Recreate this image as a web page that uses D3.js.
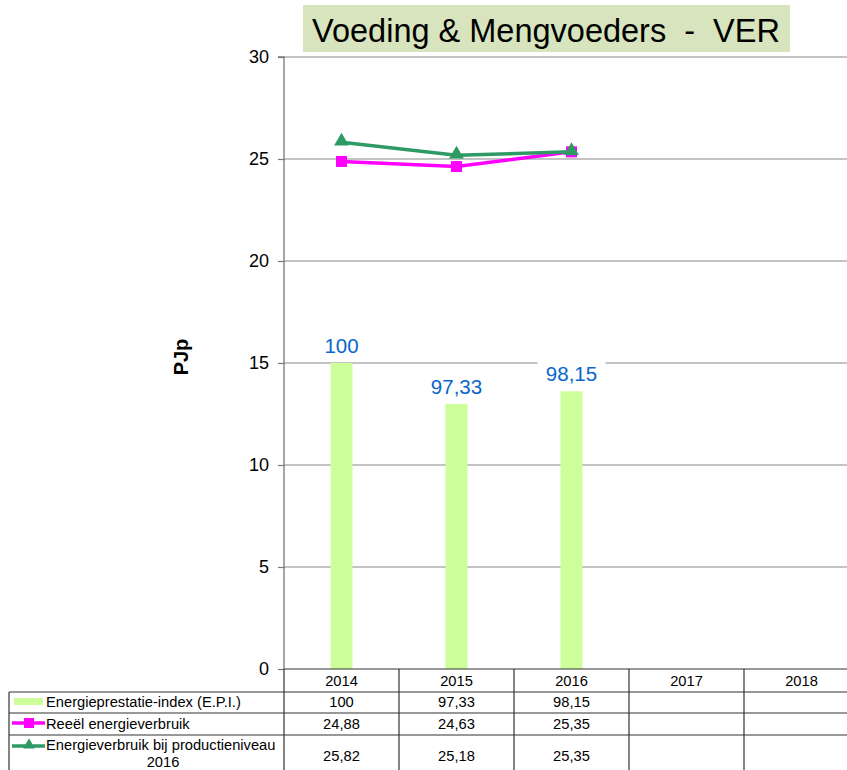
<!DOCTYPE html>
<html>
<head>
<meta charset="utf-8">
<script src="https://cdn.jsdelivr.net/npm/d3@7"></script>
<style>
  html, body { margin: 0; padding: 0; background: #fff; }
  svg { display: block; font-family: "Liberation Sans", Arial, sans-serif; }
</style>
</head>
<body>
<svg id="chart" width="847" height="770"></svg>
<script>
// Years shown on the category axis and in the data table
const years = ["2014", "2015", "2016", "2017", "2018"];
// Energieprestatie-index (secondary, hidden scale)
const epiValues = [100, 97.33, 98.15];
// Reeël energieverbruik (PJp)
const reeelValues = [24.88, 24.63, 25.35];
// Energieverbruik bij productieniveau 2016 (PJp)
const prodValues = [25.82, 25.18, 25.35];
// Primary axis ticks
const yTicks = [0, 5, 10, 15, 20, 25, 30];

const seriesNames = [
  "Energieprestatie-index (E.P.I.)",
  "Reeël energieverbruik",
  ["Energieverbruik bij productieniveau", "2016"]
];

const fmt = v => String(v).replace(".", ",");

const svg = d3.select("#chart");
const plot = { left: 284, right: 859, top: 57, bottom: 669 };

const x = d3.scaleBand().domain(years).range([plot.left, plot.right]);
const y = d3.scaleLinear().domain([0, 30]).range([plot.bottom, plot.top]);
const yEpi = d3.scaleLinear().domain([80, 120]).range([plot.bottom, plot.top]);

const colEpi = "#ccff99";
const colReeel = "#ff00ff";
const colProd = "#2e9a64";
const colLabel = "#0a66cc";
const tableFont = 14.7;

// Title box
svg.append("rect").attr("x", 303).attr("y", 5).attr("width", 487).attr("height", 47)
  .attr("fill", "#d7e4bd");
svg.append("text").attr("x", 546).attr("y", 42).attr("text-anchor", "middle")
  .attr("font-size", 32.5).attr("fill", "#000")
  .attr("xml:space", "preserve")
  .text("Voeding & Mengvoeders  -  VER");

// Horizontal gridlines
svg.append("g").selectAll("line").data(yTicks.filter(t => t > 0)).join("line")
  .attr("x1", plot.left).attr("x2", plot.right)
  .attr("y1", d => y(d)).attr("y2", d => y(d))
  .attr("stroke", "#878787").attr("stroke-width", 1.2);

// EPI bars on the hidden secondary scale
const barW = 22;
svg.append("g").selectAll("rect").data(epiValues).join("rect")
  .attr("x", (d, i) => x(years[i]) + x.bandwidth() / 2 - barW / 2)
  .attr("width", barW)
  .attr("y", d => yEpi(d))
  .attr("height", d => yEpi(80) - yEpi(d))
  .attr("fill", colEpi);

// Lines
const line = d3.line().x((d, i) => x(years[i]) + x.bandwidth() / 2).y(d => y(d));
svg.append("path").datum(reeelValues).attr("d", line)
  .attr("fill", "none").attr("stroke", colReeel).attr("stroke-width", 3.5);
svg.append("path").datum(prodValues).attr("d", line)
  .attr("fill", "none").attr("stroke", colProd).attr("stroke-width", 3.5);

// Markers
svg.append("g").selectAll("rect").data(reeelValues).join("rect")
  .attr("x", (d, i) => x(years[i]) + x.bandwidth() / 2 - 5.5)
  .attr("y", d => y(d) - 5.5)
  .attr("width", 11).attr("height", 11).attr("fill", colReeel);
const tri = d3.symbol().type(d3.symbolTriangle).size(95);
svg.append("g").selectAll("path").data(prodValues).join("path")
  .attr("d", tri)
  .attr("transform", (d, i) => `translate(${x(years[i]) + x.bandwidth() / 2},${y(d) - 1})`)
  .attr("fill", colProd);

// EPI value labels with white backing
const lbl = svg.append("g").selectAll("g").data(epiValues).join("g")
  .attr("transform", (d, i) => `translate(${x(years[i]) + x.bandwidth() / 2},${yEpi(d) - 10})`);
lbl.append("rect")
  .attr("x", d => -fmt(d).length * 6 - 4).attr("y", -20)
  .attr("width", d => fmt(d).length * 12 + 8).attr("height", 25)
  .attr("fill", "#fff");
lbl.append("text").attr("text-anchor", "middle").attr("font-size", 20.5)
  .attr("fill", colLabel).text(d => fmt(d));

// Y axis
const yAxis = d3.axisLeft(y).tickValues(yTicks).tickSize(6).tickPadding(9).tickFormat(d3.format("d"));
const ga = svg.append("g").attr("transform", `translate(${plot.left},0)`).call(yAxis);
ga.select(".domain").attr("stroke", "#777").attr("stroke-width", 1.3).attr("d", `M-6,${plot.top}H0V${plot.bottom}`);
ga.selectAll(".tick line").attr("stroke", "#777").attr("stroke-width", 1.2);
ga.selectAll(".tick text").attr("font-size", 18).attr("fill", "#000")
  .attr("font-family", "Liberation Sans, Arial, sans-serif");

svg.append("text")
  .attr("transform", "translate(188,357) rotate(-90)")
  .attr("text-anchor", "middle").attr("font-size", 20).attr("font-weight", "bold")
  .text("PJp");

// Data table
const tbl = svg.append("g");
const rowY = [669, 692, 713, 735, 778];
const tableLeft = 9;
const stroke = "#333";

// horizontal rules
tbl.append("line").attr("x1", plot.left).attr("x2", plot.right).attr("y1", rowY[0]).attr("y2", rowY[0])
  .attr("stroke", stroke).attr("stroke-width", 1.2);
rowY.slice(1, 4).forEach(yy => {
  tbl.append("line").attr("x1", tableLeft).attr("x2", plot.right).attr("y1", yy).attr("y2", yy)
    .attr("stroke", stroke).attr("stroke-width", 1.2);
});
// vertical rules
tbl.append("line").attr("x1", tableLeft).attr("x2", tableLeft).attr("y1", rowY[1]).attr("y2", rowY[4])
  .attr("stroke", stroke).attr("stroke-width", 1.2);
years.forEach(yr => {
  tbl.append("line").attr("x1", x(yr)).attr("x2", x(yr)).attr("y1", rowY[0]).attr("y2", rowY[4])
    .attr("stroke", stroke).attr("stroke-width", 1.2);
});

// year headers
tbl.selectAll("text.yr").data(years).join("text").attr("class", "yr")
  .attr("x", d => x(d) + x.bandwidth() / 2).attr("y", 686)
  .attr("text-anchor", "middle").attr("font-size", tableFont).text(d => d);

// values
const rows = [epiValues, reeelValues, prodValues];
const valY = [707, 729, 761];
rows.forEach((vals, r) => {
  tbl.append("g").selectAll("text").data(vals).join("text")
    .attr("x", (d, i) => x(years[i]) + x.bandwidth() / 2).attr("y", valY[r])
    .attr("text-anchor", "middle").attr("font-size", tableFont).text(d => fmt(d));
});

// legend keys
tbl.append("rect").attr("x", 14).attr("y", 698).attr("width", 29).attr("height", 7).attr("fill", colEpi);
tbl.append("line").attr("x1", 12).attr("x2", 45).attr("y1", 723).attr("y2", 723)
  .attr("stroke", colReeel).attr("stroke-width", 3.5);
tbl.append("rect").attr("x", 24).attr("y", 718).attr("width", 10).attr("height", 10).attr("fill", colReeel);
tbl.append("line").attr("x1", 12).attr("x2", 45).attr("y1", 746).attr("y2", 746)
  .attr("stroke", colProd).attr("stroke-width", 3.5);
tbl.append("path").attr("d", d3.symbol().type(d3.symbolTriangle).size(60))
  .attr("transform", "translate(29,745)").attr("fill", colProd);

// row labels
tbl.append("text").attr("x", 46).attr("y", 707).attr("font-size", tableFont).text(seriesNames[0]);
tbl.append("text").attr("x", 46).attr("y", 729).attr("font-size", tableFont).text(seriesNames[1]);
tbl.append("text").attr("x", 46).attr("y", 750).attr("font-size", tableFont).text(seriesNames[2][0]);
tbl.append("text").attr("x", 163).attr("y", 767).attr("text-anchor", "middle").attr("font-size", tableFont).text(seriesNames[2][1]);
</script>
</body>
</html>
